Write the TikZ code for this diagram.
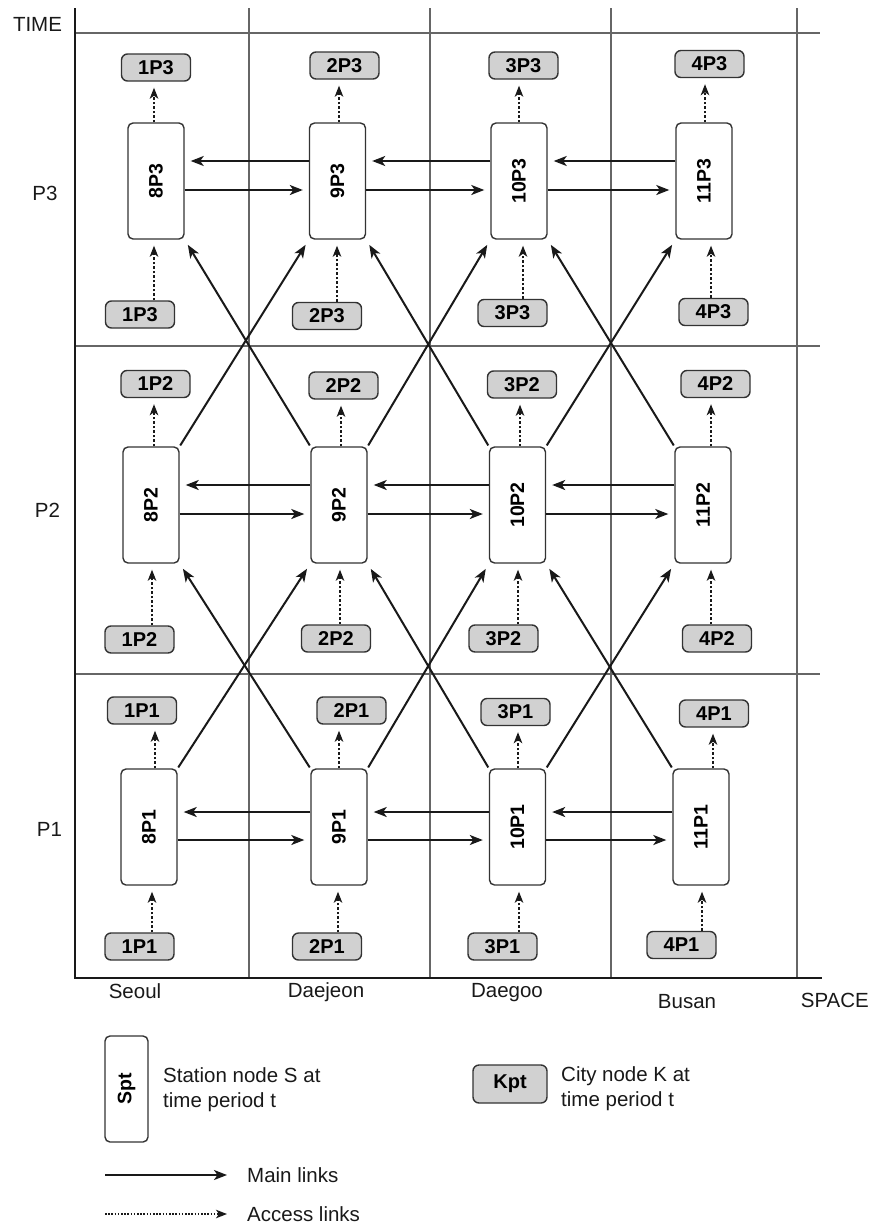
\documentclass[tikz,border=0pt]{standalone}
\usepackage{fontspec}
\setmainfont{Liberation Sans}
\usepackage{graphicx}
\usetikzlibrary{arrows.meta}
\newcommand\AccOut[3]{\coordinate (q) at ([xshift=#3pt]#1.north); \draw[access] (q) -- (q |- #2.south);}
\newcommand\AccIn[3]{\coordinate (q) at ([xshift=#3pt]#1.south); \draw[access] (q |- #2.north) -- (q);}
\newcommand\HPair[4]{\draw[main] ([yshift=#3pt]#2.west) -- ([yshift=#3pt]#1.east); \draw[main] ([yshift=#4pt]#1.east) -- ([yshift=#4pt]#2.west);}
\begin{document}
\begin{tikzpicture}[x=1pt,y=-1pt,
  txt/.style={font=\fontsize{20.5}{25}\selectfont, text=black!90, inner sep=0pt},
  stn/.style={draw=black!80, line width=1.4pt, rounded corners=5pt, fill=white, minimum width=56pt, minimum height=116pt, inner sep=0pt, font=\bfseries\fontsize{19.5}{20}\selectfont},
  cty/.style={draw=black!80, line width=1.4pt, rounded corners=6pt, fill=black!18, minimum width=69pt, minimum height=27pt, inner sep=0pt, font=\bfseries\fontsize{20}{20}\selectfont},
  main/.style={line width=2pt, draw=black!90, -{Stealth[length=13pt,width=10pt,inset=3.5pt]}, shorten >=6pt},
  access/.style={line width=1.8pt, draw=black!90, dash pattern=on 2.5pt off 2pt, -{Stealth[length=11pt,width=8.5pt,inset=3pt]}, shorten >=6pt},
  gridline/.style={line width=1.2pt, draw=black!60},
  axisline/.style={line width=2pt, draw=black!90}]
\useasboundingbox (0,0) rectangle (870,1226);
% grid and axes
\foreach \x in {249,430,611,797} \draw[gridline] (\x,8) -- (\x,978);
\foreach \y in {33,346,674} \draw[gridline] (75,\y) -- (820,\y);
\draw[axisline] (75,8) -- (75,978) -- (822,978);
% axis labels
\node[txt] (time) at (37.5,24) {TIME};
\node[txt] (lp3) at (45,193) {P3};
\node[txt] (lp2) at (47.5,510) {P2};
\node[txt] (lp1) at (49.5,829) {P1};
\node[txt, anchor=base] (seoul) at (135,998) {Seoul};
\node[txt, anchor=base] (daejeon) at (326,997) {Daejeon};
\node[txt, anchor=base] (daegoo) at (507,997) {Daegoo};
\node[txt, anchor=base] (busan) at (687,1008) {Busan};
\node[txt, anchor=base east] (space) at (869,1007) {SPACE};
% station nodes
\node[stn] (s83) at (156,181) {\rotatebox{90}{8P3}};
\node[stn] (s93) at (337.5,181) {\rotatebox{90}{9P3}};
\node[stn] (s103) at (519,181) {\rotatebox{90}{10P3}};
\node[stn] (s113) at (704,181) {\rotatebox{90}{11P3}};
\node[stn] (s82) at (151,505) {\rotatebox{90}{8P2}};
\node[stn] (s92) at (339,505) {\rotatebox{90}{9P2}};
\node[stn] (s102) at (517.5,505) {\rotatebox{90}{10P2}};
\node[stn] (s112) at (703,505) {\rotatebox{90}{11P2}};
\node[stn] (s81) at (149,827) {\rotatebox{90}{8P1}};
\node[stn] (s91) at (339,827) {\rotatebox{90}{9P1}};
\node[stn] (s101) at (517.5,827) {\rotatebox{90}{10P1}};
\node[stn] (s111) at (701,827) {\rotatebox{90}{11P1}};
% city nodes (top)
\node[cty] (t13) at (156,67.5) {1P3};
\node[cty] (t23) at (344.5,65.5) {2P3};
\node[cty] (t33) at (523.5,65.5) {3P3};
\node[cty] (t43) at (709.5,64) {4P3};
\node[cty] (t12) at (155.5,384) {1P2};
\node[cty] (t22) at (343.5,385.5) {2P2};
\node[cty] (t32) at (522,384.5) {3P2};
\node[cty] (t42) at (715.5,384) {4P2};
\node[cty] (t11) at (142,710.5) {1P1};
\node[cty] (t21) at (351.5,710.5) {2P1};
\node[cty] (t31) at (515.5,712) {3P1};
\node[cty] (t41) at (714,713.5) {4P1};
% city nodes (bottom)
\node[cty] (b13) at (140,314.5) {1P3};
\node[cty] (b23) at (327,316) {2P3};
\node[cty] (b33) at (512.5,313) {3P3};
\node[cty] (b43) at (713.5,312) {4P3};
\node[cty] (b12) at (139.5,639.5) {1P2};
\node[cty] (b22) at (336,638.5) {2P2};
\node[cty] (b32) at (503.5,638.5) {3P2};
\node[cty] (b42) at (717,638.5) {4P2};
\node[cty] (b11) at (139.5,946.5) {1P1};
\node[cty] (b21) at (327,946.5) {2P1};
\node[cty] (b31) at (502.5,946.5) {3P1};
\node[cty] (b41) at (681.5,945) {4P1};
% access links
\AccOut{s83}{t13}{-2} \AccOut{s93}{t23}{1.5} \AccOut{s103}{t33}{0} \AccOut{s113}{t43}{1}
\AccOut{s82}{t12}{3} \AccOut{s92}{t22}{2} \AccOut{s102}{t32}{2.5} \AccOut{s112}{t42}{8}
\AccOut{s81}{t11}{6} \AccOut{s91}{t21}{0} \AccOut{s101}{t31}{0.5} \AccOut{s111}{t41}{12}
\AccIn{s83}{b13}{-2} \AccIn{s93}{b23}{-0.5} \AccIn{s103}{b33}{4} \AccIn{s113}{b43}{7}
\AccIn{s82}{b12}{1} \AccIn{s92}{b22}{1} \AccIn{s102}{b32}{0.5} \AccIn{s112}{b42}{8}
\AccIn{s81}{b11}{3} \AccIn{s91}{b21}{-1} \AccIn{s101}{b31}{1.5} \AccIn{s111}{b41}{1}
% horizontal main links
\HPair{s83}{s93}{20}{-9} \HPair{s93}{s103}{20}{-9} \HPair{s103}{s113}{20}{-9}
\HPair{s82}{s92}{20}{-9} \HPair{s92}{s102}{20}{-9} \HPair{s102}{s112}{20}{-9}
\HPair{s81}{s91}{15}{-13} \HPair{s91}{s101}{15}{-13} \HPair{s101}{s111}{15}{-13}
% diagonal main links
\foreach \lo/\hi in {1/2,2/3}{
  \draw[main, shorten <=1pt] (s8\lo.north east) -- (s9\hi.south west);
  \draw[main, shorten <=1pt] (s9\lo.north west) -- (s8\hi.south east);
  \draw[main, shorten <=1pt] (s9\lo.north east) -- (s10\hi.south west);
  \draw[main, shorten <=1pt] (s10\lo.north west) -- (s9\hi.south east);
  \draw[main, shorten <=1pt] (s10\lo.north east) -- (s11\hi.south west);
  \draw[main, shorten <=1pt] (s11\lo.north west) -- (s10\hi.south east);
}
% legend
\node[stn, minimum width=43pt, minimum height=106pt] (spt) at (126.5,1089) {\rotatebox{90}{Spt}};
\node[txt, anchor=base west] (sptA) at (163,1082) {Station node S at};
\node[txt, anchor=base west] (sptB) at (163,1107) {time period t};
\node[cty, minimum width=74pt, minimum height=38pt] (kpt) at (510,1084) {Kpt};
\node[txt, anchor=base west] (kptA) at (561,1081) {City node K at};
\node[txt, anchor=base west] (kptB) at (561,1106) {time period t};
\coordinate (m1) at (105,1175);
\coordinate (m2) at (227,1175);
\draw[main, shorten >=0pt] (m1) -- (m2);
\node[txt, anchor=base west] (mainl) at (247,1182) {Main links};
\coordinate (a1) at (105,1214);
\coordinate (a2) at (227,1214);
\draw[access, line width=1.5pt, dash pattern=on 1.6pt off 1.6pt, shorten >=0pt] (a1) -- (a2);
\node[txt, anchor=base west] (accl) at (247,1221) {Access links};
\end{tikzpicture}
\end{document}
